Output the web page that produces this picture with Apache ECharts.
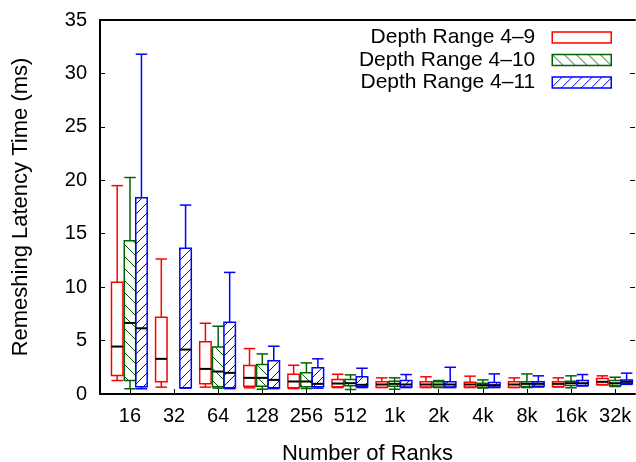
<!DOCTYPE html>
<html>
<head>
<meta charset="utf-8">
<script src="https://cdn.jsdelivr.net/npm/echarts@6/dist/echarts.min.js"></script>
<style>
  html, body { margin: 0; padding: 0; background: #fff; }
  #chart { width: 636px; height: 462px; }
</style>
</head>
<body>
<div id="chart"></div>
<script>
// categories on the x axis
var ranks = ["16", "32", "64", "128", "256", "512", "1k", "2k", "4k", "8k", "16k", "32k"];

// each entry: [low whisker, q1, median, q3, high whisker]
var range4to9 = [
  [1.26, 1.73, 4.44, 10.45, 19.5],
  [0.64, 1.14, 3.29, 7.18, 12.63],
  [0.64, 0.95, 2.35, 4.88, 6.62],
  [0.58, 0.73, 1.51, 2.66, 4.25],
  [0.5, 0.58, 1.17, 1.85, 2.69],
  [0.6, 0.67, 0.98, 1.36, 1.85],
  [0.6, 0.64, 0.89, 1.14, 1.51],
  [0.6, 0.66, 0.89, 1.14, 1.61],
  [0.6, 0.66, 0.89, 1.1, 1.67],
  [0.6, 0.64, 0.89, 1.14, 1.51],
  [0.65, 0.7, 0.95, 1.14, 1.51],
  [0.85, 0.89, 1.14, 1.45, 1.7]
];
var range4to10 = [
  [0.49, 1.26, 6.65, 14.35, 20.26],
  null,
  [0.55, 0.67, 2.1, 4.41, 6.34],
  [0.45, 0.73, 1.51, 2.76, 3.75],
  [0.51, 0.67, 1.17, 2.0, 2.91],
  [0.42, 0.77, 1.01, 1.36, 1.79],
  [0.45, 0.73, 0.95, 1.2, 1.51],
  [0.6, 0.66, 0.89, 1.14, 1.26],
  [0.55, 0.64, 0.83, 1.01, 1.32],
  [0.6, 0.7, 0.95, 1.14, 1.88],
  [0.58, 0.8, 1.01, 1.2, 1.7],
  [0.7, 0.8, 1.01, 1.26, 1.57]
];
var range4to11 = [
  [0.49, 0.67, 6.15, 18.36, 31.8],
  [0.55, 0.58, 4.16, 13.63, 17.68],
  [0.5, 0.58, 1.98, 6.71, 11.38],
  [0.5, 0.58, 1.32, 3.1, 4.47],
  [0.55, 0.67, 0.95, 2.45, 3.29],
  [0.6, 0.67, 0.86, 1.61, 2.41],
  [0.6, 0.66, 0.89, 1.26, 1.82],
  [0.6, 0.66, 0.89, 1.14, 2.5],
  [0.6, 0.66, 0.83, 1.07, 1.88],
  [0.65, 0.73, 0.95, 1.14, 1.7],
  [0.75, 0.8, 1.01, 1.26, 1.82],
  [0.9, 0.95, 1.14, 1.32, 1.95]
];
var seriesNames = ["Depth Range 4\u20139", "Depth Range 4\u201310", "Depth Range 4\u201311"];
var yTicks = [0, 5, 10, 15, 20, 25, 30, 35];

// hatch fills
function hatch(color, size, dir) {
  var c = document.createElement("canvas");
  c.width = size; c.height = size;
  var g = c.getContext("2d");
  g.strokeStyle = color;
  g.lineWidth = 1;
  g.beginPath();
  if (dir === "/") {
    g.moveTo(-1, size + 1); g.lineTo(size + 1, -1);
  } else {
    g.moveTo(-1, -1); g.lineTo(size + 1, size + 1);
  }
  g.stroke();
  return c;
}
var styles = [
  { color: "#ff0000", fill: "#ffffff" },
  { color: "#006400", fill: { image: hatch("#006400", 12, "\\"), repeat: "repeat" } },
  { color: "#0000ff", fill: { image: hatch("#0000ff", 10, "/"), repeat: "repeat" } }
];
var offsets = [-0.29, 0, 0.26];
var boxWidth = 0.26;

function buildData(stats, k) {
  var out = [];
  for (var i = 0; i < stats.length; i++) {
    if (!stats[i]) continue;
    out.push([i + offsets[k]].concat(stats[i]));
  }
  return out;
}

function makeRender(k) {
  var st = styles[k];
  return function (params, api) {
    var x = api.value(0);
    var lo = api.coord([x, api.value(1)]);
    var q1 = api.coord([x, api.value(2)]);
    var md = api.coord([x, api.value(3)]);
    var q3 = api.coord([x, api.value(4)]);
    var hi = api.coord([x, api.value(5)]);
    var half = api.size([boxWidth, 0])[0] / 2;
    var cx = lo[0];
    var lineStyle = { stroke: st.color, lineWidth: 1.5 };
    return {
      type: "group",
      children: [
        { type: "line", shape: { x1: cx, y1: q3[1], x2: cx, y2: hi[1] }, style: lineStyle },
        { type: "line", shape: { x1: cx, y1: lo[1], x2: cx, y2: q1[1] }, style: lineStyle },
        { type: "line", shape: { x1: cx - half, y1: hi[1], x2: cx + half, y2: hi[1] }, style: lineStyle },
        { type: "line", shape: { x1: cx - half, y1: lo[1], x2: cx + half, y2: lo[1] }, style: lineStyle },
        { type: "rect", shape: { x: cx - half, y: q3[1], width: half * 2, height: q1[1] - q3[1] },
          style: { fill: st.fill, stroke: st.color, lineWidth: 1.5 } },
        { type: "line", shape: { x1: cx - half, y1: md[1], x2: cx + half, y2: md[1] },
          style: { stroke: "#000", lineWidth: 2 } }
      ]
    };
  };
}

var allStats = [range4to9, range4to10, range4to11];
var series = [];
var legends = [];
for (var k = 0; k < 3; k++) {
  series.push({
    name: seriesNames[k],
    type: "custom",
    renderItem: makeRender(k),
    encode: { x: 0, y: [1, 2, 3, 4, 5] },
    itemStyle: { color: styles[k].color },
    data: buildData(allStats[k], k),
    z: 3 + k
  });
  legends.push({
    orient: "vertical",
    right: 24,
    top: 27 + k * 22.5,
    padding: 0,
    align: "right",
    itemWidth: 59,
    itemHeight: 11,
    selectedMode: false,
    textStyle: { fontFamily: "Liberation Sans", fontSize: 21, color: "#000", padding: [0, 12, 0, 0] },
    data: [{
      name: seriesNames[k],
      icon: "rect",
      itemStyle: { color: styles[k].fill, borderColor: styles[k].color, borderWidth: 1.5 }
    }]
  });
}

var chart = echarts.init(document.getElementById("chart"), null, { renderer: "canvas" });
var font = "Liberation Sans";
chart.setOption({
  animation: false,
  textStyle: { fontFamily: font },
  grid: { left: 100, right: 1, top: 20, bottom: 68, outerBoundsMode: "none", containLabel: false },
  legend: legends,
  xAxis: [{
    type: "value",
    min: -0.68,
    max: 11.45,
    name: "Number of Ranks",
    nameLocation: "middle",
    nameGap: 49,
    nameTextStyle: { fontSize: 22, color: "#000", fontFamily: font },
    axisLine: { onZero: false, lineStyle: { color: "#000", width: 2 } },
    axisTick: { inside: true, length: 5, lineStyle: { color: "#000", width: 1 }, customValues: ranks.map(function (r, i) { return i; }) },
    axisLabel: {
      customValues: ranks.map(function (r, i) { return i; }),
      formatter: function (v) { return ranks[Math.round(v)]; },
      fontSize: 20, color: "#000", margin: 12, fontFamily: font
    },
    splitLine: { show: false }
  }, {
    type: "value",
    position: "top",
    min: -0.68,
    max: 11.45,
    axisLine: { onZero: false, lineStyle: { color: "#000", width: 2 } },
    axisTick: { show: false },
    axisLabel: { show: false },
    splitLine: { show: false }
  }],
  yAxis: [{
    type: "value",
    min: 0,
    max: 35,
    interval: 5,
    name: "Remeshing Latency Time (ms)",
    nameLocation: "middle",
    nameGap: 68,
    nameTextStyle: { fontSize: 22, color: "#000", fontFamily: font },
    axisLine: { show: true, onZero: false, lineStyle: { color: "#000", width: 2 } },
    axisTick: { inside: true, length: 5, lineStyle: { color: "#000", width: 1 } },
    axisLabel: { fontSize: 20, color: "#000", margin: 13, fontFamily: font,
      formatter: function (v) { return yTicks.indexOf(v) >= 0 ? String(v) : ""; } },
    splitLine: { show: false }
  }, {
    type: "value",
    position: "right",
    min: 0,
    max: 35,
    interval: 5,
    axisLine: { show: false, onZero: false },
    axisTick: { inside: true, length: 5, lineStyle: { color: "#000", width: 1 } },
    axisLabel: { show: false },
    splitLine: { show: false }
  }],
  series: series
});
</script>
</body>
</html>
